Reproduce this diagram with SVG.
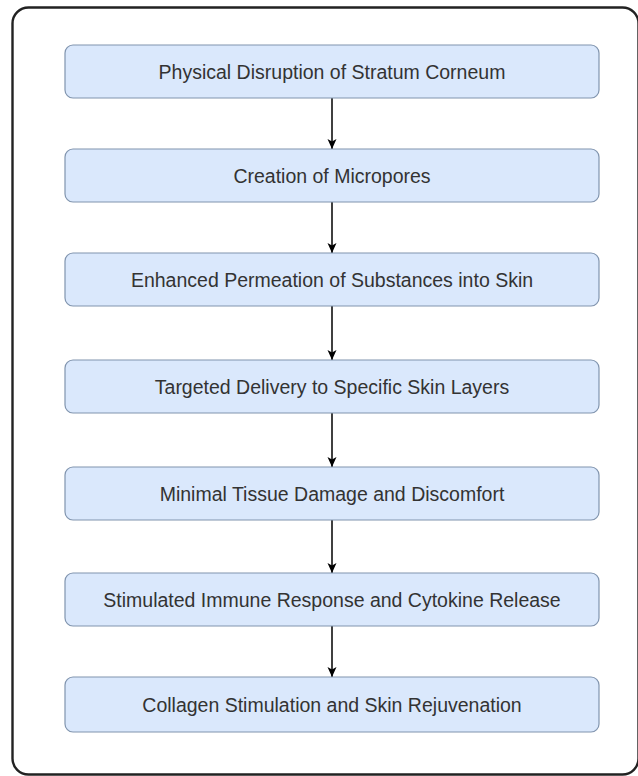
<svg xmlns="http://www.w3.org/2000/svg" width="638" height="776" viewBox="0 0 638 776">
<style>
.node rect{fill:#dae8fc;stroke:#8094ae;stroke-width:1.2}
.node text{font-family:"Liberation Sans",Arial,sans-serif;font-size:19.5px;fill:#333;text-anchor:middle;dominant-baseline:central}
.edge{stroke:#000;stroke-width:1.5;fill:none;marker-end:url(#ah)}
</style>
<defs>
<marker id="ah" viewBox="0 0 10 10" refX="10" refY="5" markerWidth="10" markerHeight="10" markerUnits="userSpaceOnUse" orient="auto">
<path d="M0,0.5 L10,5 L0,9.5 L2.5,5 Z" fill="#000"/>
</marker>
</defs>
<rect x="12.5" y="7.5" width="626" height="767" rx="16" fill="#fff" stroke="#222" stroke-width="2.4"/>
<g id="connectors">
<line class="edge" x1="332" y1="98" x2="332" y2="149"/>
<line class="edge" x1="332" y1="202" x2="332" y2="253"/>
<line class="edge" x1="332" y1="306" x2="332" y2="360"/>
<line class="edge" x1="332" y1="413" x2="332" y2="467"/>
<line class="edge" x1="332" y1="520" x2="332" y2="573"/>
<line class="edge" x1="332" y1="626" x2="332" y2="677"/>
</g>
<g id="n1" class="node"><rect x="65" y="45" width="534" height="53" rx="8"/><text x="332" y="71.5">Physical Disruption of Stratum Corneum</text></g>
<g id="n2" class="node"><rect x="65" y="149" width="534" height="53" rx="8"/><text x="332" y="175.5">Creation of Micropores</text></g>
<g id="n3" class="node"><rect x="65" y="253" width="534" height="53" rx="8"/><text x="332" y="279.5">Enhanced Permeation of Substances into Skin</text></g>
<g id="n4" class="node"><rect x="65" y="360" width="534" height="53" rx="8"/><text x="332" y="386.5">Targeted Delivery to Specific Skin Layers</text></g>
<g id="n5" class="node"><rect x="65" y="467" width="534" height="53" rx="8"/><text x="332" y="493.5">Minimal Tissue Damage and Discomfort</text></g>
<g id="n6" class="node"><rect x="65" y="573" width="534" height="53" rx="8"/><text x="332" y="599.5">Stimulated Immune Response and Cytokine Release</text></g>
<g id="n7" class="node"><rect x="65" y="677" width="534" height="55" rx="8"/><text x="332" y="704.5">Collagen Stimulation and Skin Rejuvenation</text></g>
</svg>
